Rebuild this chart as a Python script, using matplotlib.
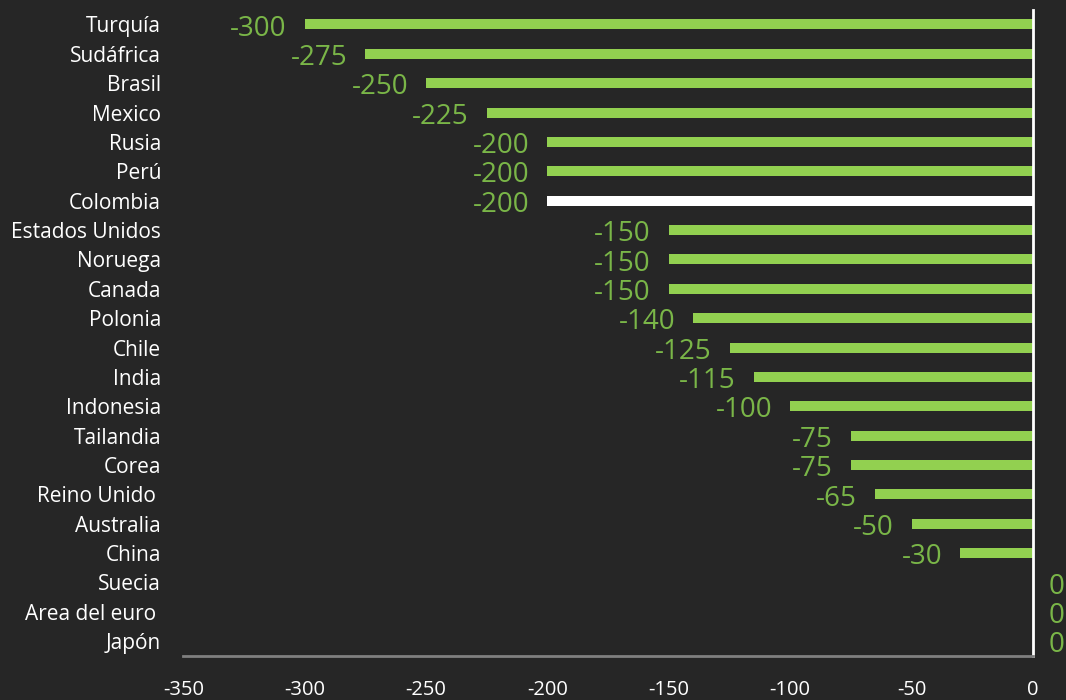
import matplotlib.pyplot as plt

countries = ["Turquía", "Sudáfrica", "Brasil", "Mexico", "Rusia", "Perú", "Colombia",
             "Estados Unidos", "Noruega", "Canada", "Polonia", "Chile", "India",
             "Indonesia", "Tailandia", "Corea", "Reino Unido ", "Australia", "China",
             "Suecia", "Area del euro ", "Japón"]
values = [-300, -275, -250, -225, -200, -200, -200, -150, -150, -150, -140, -125,
          -115, -100, -75, -75, -65, -50, -30, 0, 0, 0]
highlight = "Colombia"

bg = "#262626"
green = "#92D050"
label_green = "#7AB648"

plt.rcParams['font.family'] = ['Open Sans', 'DejaVu Sans']
plt.rcParams['axes.unicode_minus'] = False

fig = plt.figure(figsize=(10.66, 7), dpi=100, facecolor=bg)
ax = fig.add_axes([0.172, 0.063, 0.797, 0.923], facecolor=bg)

ypos = list(range(len(countries)))
colors = ["white" if c == highlight else green for c in countries]
ax.barh(ypos, values, height=0.34, color=colors, zorder=2)

for y, v in zip(ypos, values):
    if v < 0:
        ax.annotate(str(v), (v, y), xytext=(-13, -3), textcoords="offset points",
                    ha="right", va="center", color=label_green, fontsize=20)
    else:
        ax.annotate(str(v), (v, y), xytext=(11, -3), textcoords="offset points",
                    ha="left", va="center", color=label_green, fontsize=20,
                    annotation_clip=False)

ax.set_xlim(-350, 0)
ax.set_ylim(len(countries) - 0.5, -0.5)
ax.set_xticks(range(-350, 1, 50))
ax.set_yticks(ypos)
ax.set_yticklabels(countries)
ax.tick_params(axis="both", colors="white", labelsize=15, length=0)
ax.tick_params(axis="x", labelsize=14.5, pad=17)
ax.tick_params(axis="y", pad=16)

for s in ["top", "left"]:
    ax.spines[s].set_visible(False)
ax.spines["bottom"].set_color("#7f7f7f")
ax.spines["bottom"].set_linewidth(2)
ax.spines["right"].set_color("white")
ax.spines["right"].set_linewidth(2)

fig.savefig("out.png", dpi=100, facecolor=bg)
